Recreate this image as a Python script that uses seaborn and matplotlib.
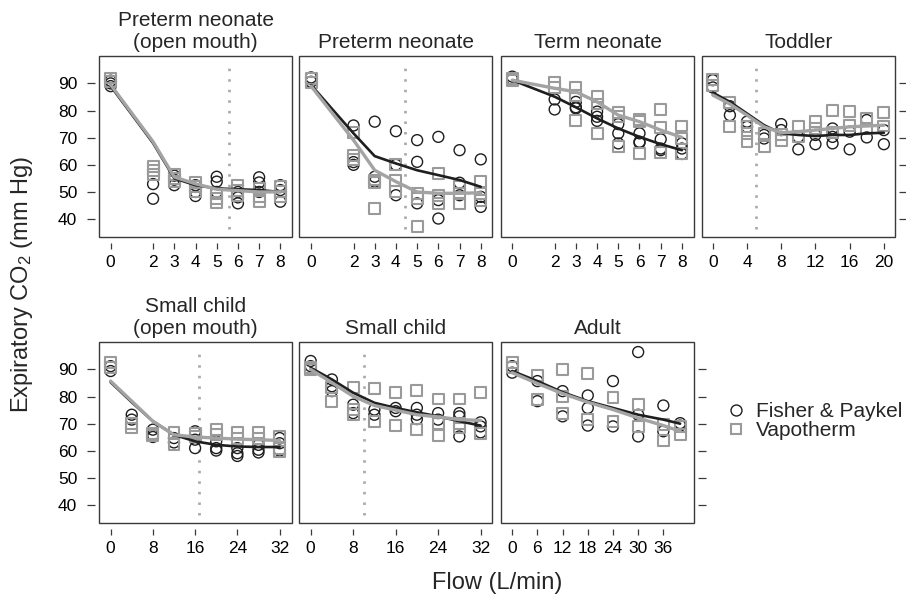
import matplotlib
matplotlib.use("Agg")
import matplotlib.pyplot as plt
from matplotlib.patches import Rectangle
from matplotlib.lines import Line2D
import seaborn as sns
import pandas as pd

# ---- data (Expiratory CO2, mm Hg) ----
# Preterm neonate (open mouth)
pom_flow = [0, 2, 3, 4, 5, 6, 7, 8]
pom_fp = [[91, 89, 90], [52.9, 47.5], [56, 54.5, 52.5], [52.5, 50, 48.5],
          [55.6, 53.8, 50], [50, 48, 45.8], [55.4, 53.5, 50], [52.5, 50.7, 46.4]]
pom_vt = [[92, 90.6], [59.5, 58, 56.5], [56.5, 55, 54], [53.4, 51.9, 50],
          [49.5, 47.6, 46.1], [52.5, 50.7, 48.5], [51.3, 48.2, 46.4], [51.9, 50, 48.2]]
pom_fp_fit = [89, 68, 55, 52.5, 51.3, 51, 50.7, 50]
pom_vt_fit = [89.5, 68.5, 55.5, 53, 51, 50.5, 50, 50]

# Preterm neonate
pre_flow = [0, 2, 3, 4, 5, 6, 7, 8]
pre_fp = [[92.2, 90.6], [74.5, 61, 60], [75.9, 55.6, 53.8], [72.4, 60, 48.8],
          [69.1, 61.1, 45.8], [70.3, 47, 40.2], [65.4, 53.4, 48.8], [62, 48.2, 44.5]]
pre_vt = [[91.8, 90.2], [72, 63.5, 62], [54.4, 53.4, 43.9], [60.1, 54.3, 50],
          [49.5, 47.6, 37.2], [56.8, 48.8, 45.8], [51.9, 49.5, 45.8], [54, 49.5, 47]]
pre_fp_fit = [89.4, 71.6, 63.2, 60.5, 58, 56.2, 54.4, 51.9]
pre_vt_fit = [89, 69.1, 58, 53.8, 50, 49.5, 49.5, 49.7]

# Term neonate
term_flow = [0, 2, 3, 4, 5, 6, 7, 8]
term_fp = [[92.5, 91.5], [84.1, 80.4], [83.2, 81.2, 80.8], [79.6, 77.7, 76.2],
           [75, 71.6, 67.9], [71.6, 68.5, 68.1], [69.4, 66, 65.4], [67.9, 66, 64]]
term_vt = [[91.2, 91.8], [90.2, 88.5], [88.5, 85.7, 76.5], [85.3, 82.4, 71.6],
           [79.2, 77.7, 66.7], [76.7, 75.9, 64.2], [80.4, 73.8, 64.4], [74.3, 69.7, 64.2]]
term_fp_fit = [91.2, 85.1, 81.2, 77.1, 73.4, 70.3, 67.6, 65.4]
term_vt_fit = [91.2, 88.2, 86.9, 83.2, 78.3, 75.9, 72.8, 70.1]

# Toddler
tod_flow = [0, 2, 4, 6, 8, 10, 12, 14, 16, 18, 20]
tod_fp = [[91.2, 88.5], [81.6, 78.3], [75.9, 74], [71, 69.7], [75, 72.8], [70.3, 65.7],
          [71, 67.6], [73.4, 70.3, 67.9], [72.2, 65.7], [76.5, 70.1], [72.8, 67.6]]
tod_vt = [[91.5, 89.4], [82.9, 74], [74, 71.6, 68.5], [71.6, 66.7], [71, 69.1], [74.3, 70.3],
          [75.9, 73.4], [79.9, 72], [79.6, 74.6], [77.1, 73.4], [79.2, 74.3]]
tod_fp_fit = [86.6, 83.2, 78.9, 74.6, 71.6, 71, 70.6, 71, 71, 71.6, 71.8]
tod_vt_fit = [85.7, 82.4, 78.3, 74, 71.8, 72.2, 72.8, 73.4, 74, 74.3, 74.6]

# Small child (open mouth)
scom_flow = [0, 4, 8, 12, 16, 20, 24, 28, 32]
scom_fp = [[91.2, 89.4], [73.3, 71.5], [67.8, 65.9, 65.1], [64.7, 63.1], [67.2, 64.1, 61],
           [63.5, 61, 60.1], [61, 59.1, 58.1], [62.2, 60.4, 59.4], [64.7, 62.8, 60.1]]
scom_vt = [[92.5, 90.6], [70.2, 68.4], [66.5, 65.6], [66.8, 62.2], [66.5, 65.3],
           [67.8, 65.9], [66.8, 64.7], [66.8, 64.7], [65.3, 61, 59.8]]
scom_fp_fit = [85.3, 77.9, 70.9, 65.9, 63.5, 62.2, 61.6, 61.4, 61.4]
scom_vt_fit = [85.7, 78.3, 70.9, 65.9, 65.1, 64.7, 64.3, 64.1, 63.8]

# Small child
sc_flow = [0, 4, 8, 12, 16, 20, 24, 28, 32]
sc_fp = [[93.1, 91.2], [86.3, 83.8, 82], [77, 73.9], [75.2, 73.3], [75.8, 74.6],
         [75.8, 73.3, 71.7], [73.9, 71.5], [73.9, 72.7, 65.3], [70.5, 69, 66.8]]
sc_vt = [[90.6, 90], [83.2, 78.3], [83.2, 75.2, 73.3], [83, 70.9], [81.4, 69.3],
         [82.3, 67.8], [79.1, 70.2, 65.6], [79.1, 70.2, 68.4], [81.4, 66.5]]
sc_fp_fit = [90.6, 86.3, 81.4, 77.7, 75.8, 74.2, 72.7, 70.9, 69.3]
sc_vt_fit = [90, 85.1, 80.1, 76.7, 75, 73.3, 72.5, 71.5, 71.2]

# Adult
ad_flow = [0, 6, 12, 18, 24, 30, 36, 40]
ad_fp = [[91.2, 88.8], [85.7, 78.3], [82, 72.7], [80.4, 75.8, 69.3], [85.7, 69],
         [96.4, 73.3, 65.3], [76.7, 67.2], [70.2, 69.3]]
ad_vt = [[92.5, 90.6], [87.8, 78.9], [89.8, 80.1, 73.7], [88.4, 71.5], [79.5, 70.9],
         [77, 69], [69.6, 63.8], [68.8, 65.9]]
ad_fp_fit = [89.4, 85.7, 81.6, 78.3, 75.8, 73.3, 71.5, 70]
ad_vt_fit = [88.8, 84.8, 81.1, 77.9, 75.2, 72.1, 69.3, 67.2]

titles = ["Preterm neonate\n(open mouth)", "Preterm neonate", "Term neonate", "Toddler",
          "Small child\n(open mouth)", "Small child", "Adult"]
cutoffs = [5.6, 4.45, None, 5.1, 16.7, 10.1, None]
xticks = [[0, 2, 3, 4, 5, 6, 7, 8], [0, 2, 3, 4, 5, 6, 7, 8], [0, 2, 3, 4, 5, 6, 7, 8],
          [0, 4, 8, 12, 16, 20], [0, 8, 16, 24, 32], [0, 8, 16, 24, 32],
          [0, 6, 12, 18, 24, 30, 36]]
yticks = [40, 50, 60, 70, 80, 90]

panels = [
    (pom_flow, pom_fp, pom_vt, pom_fp_fit, pom_vt_fit),
    (pre_flow, pre_fp, pre_vt, pre_fp_fit, pre_vt_fit),
    (term_flow, term_fp, term_vt, term_fp_fit, term_vt_fit),
    (tod_flow, tod_fp, tod_vt, tod_fp_fit, tod_vt_fit),
    (scom_flow, scom_fp, scom_vt, scom_fp_fit, scom_vt_fit),
    (sc_flow, sc_fp, sc_vt, sc_fp_fit, sc_vt_fit),
    (ad_flow, ad_fp, ad_vt, ad_fp_fit, ad_vt_fit),
]

# ---- layout (pixels of a 906x597 canvas) ----
xlims = [(-0.55, 8.55), (-0.57, 8.53), (-0.53, 8.57), (-1.26, 21.3),
         (-2.2, 34.35), (-2.2, 34.15), (-2.67, 43.3)]
slots = [(99, 56), (299, 56), (501, 56), (702, 56), (99, 342), (299, 342), (501, 342)]
PW, PH = 193, 181

sns.set_theme(style="white")
plt.rcParams["font.family"] = ["Liberation Sans", "DejaVu Sans"]
plt.rcParams["mathtext.default"] = "regular"

FP_COL = "#1e1e1e"
VT_COL = "#9a9a9a"
FRAME = "#3a3a3a"


def to_long(flow, vals):
    rows = []
    for f, vs in zip(flow, vals):
        for v in vs:
            rows.append({"flow": f, "co2": v})
    return pd.DataFrame(rows)


fig = plt.figure(figsize=(9.06, 5.97), dpi=100)

for i, (flow, fp, vt, fp_fit, vt_fit) in enumerate(panels):
    px, py = slots[i]
    ax = fig.add_axes([px / 906, 1 - (py + PH) / 597, PW / 906, PH / 597])

    sns.scatterplot(data=to_long(flow, fp), x="flow", y="co2", marker="o", s=62,
                    facecolor="none", edgecolor=FP_COL, linewidth=1.0, ax=ax,
                    legend=False, zorder=2)
    sns.scatterplot(data=to_long(flow, vt), x="flow", y="co2", marker="s", s=62,
                    facecolor="none", edgecolor=VT_COL, linewidth=1.5, ax=ax,
                    legend=False, zorder=2)
    fit = pd.DataFrame({"flow": flow, "fp": fp_fit, "vt": vt_fit})
    sns.lineplot(data=fit, x="flow", y="fp", color=FP_COL, linewidth=1.9, ax=ax,
                 legend=False, zorder=3)
    sns.lineplot(data=fit, x="flow", y="vt", color="#a3a3a3", linewidth=2.4, ax=ax,
                 legend=False, zorder=4)

    if cutoffs[i] is not None:
        ax.vlines(cutoffs[i], 36.5, 96.5, colors="#ababab", linewidth=2.0,
                  linestyles=(0, (0.9, 2.9)), zorder=1)

    ax.set_xlim(*xlims[i])
    ax.set_ylim(33.4, 100.1)
    ax.set_xticks(xticks[i])
    ax.set_yticks(yticks)
    ax.set_xlabel("")
    ax.set_ylabel("")
    ax.set_title(titles[i], fontsize=15, pad=5.6)

    for s in ax.spines.values():
        s.set_visible(False)
    ax.spines["bottom"].set_position(("outward", 4.3))
    ax.spines["left"].set_position(("outward", 2.9))
    ax.spines["right"].set_position(("outward", 2.9))
    ax.add_patch(Rectangle((0, 0), 1, 1, transform=ax.transAxes, fill=False,
                           edgecolor=FRAME, linewidth=1.0, clip_on=False, zorder=6))

    ax.tick_params(axis="x", direction="out", length=4.5, width=0.9, color=FRAME,
                   pad=4, labelsize=12.5, bottom=True, labelcolor="black")
    ax.tick_params(axis="y", direction="out", length=5.8, width=0.9, color=FRAME,
                   pad=7, labelsize=12.5, labelcolor="black",
                   left=(px == 99), labelleft=(px == 99),
                   right=(i in (3, 6)), labelright=False)

fig.text(22 / 906, 1 - 284 / 597, "Expiratory CO$_2$ (mm Hg)", rotation=90,
         ha="center", va="center", fontsize=17)
fig.text(497 / 906, 1 - 583 / 597, "Flow (L/min)", ha="center", va="center",
         fontsize=17)

handles = [
    Line2D([], [], marker="o", linestyle="none", markerfacecolor="none",
           markeredgecolor=FP_COL, markersize=7.9, markeredgewidth=1.0,
           label="Fisher & Paykel"),
    Line2D([], [], marker="s", linestyle="none", markerfacecolor="none",
           markeredgecolor=VT_COL, markersize=7.9, markeredgewidth=1.5,
           label="Vapotherm"),
]
fig.legend(handles=handles, loc="center left", bbox_to_anchor=(726 / 906, 1 - 421 / 597),
           frameon=False, fontsize=15, handlelength=1.0, handletextpad=0.45,
           labelspacing=0.0, borderpad=0, borderaxespad=0)

fig.savefig("out.png", dpi=100)
